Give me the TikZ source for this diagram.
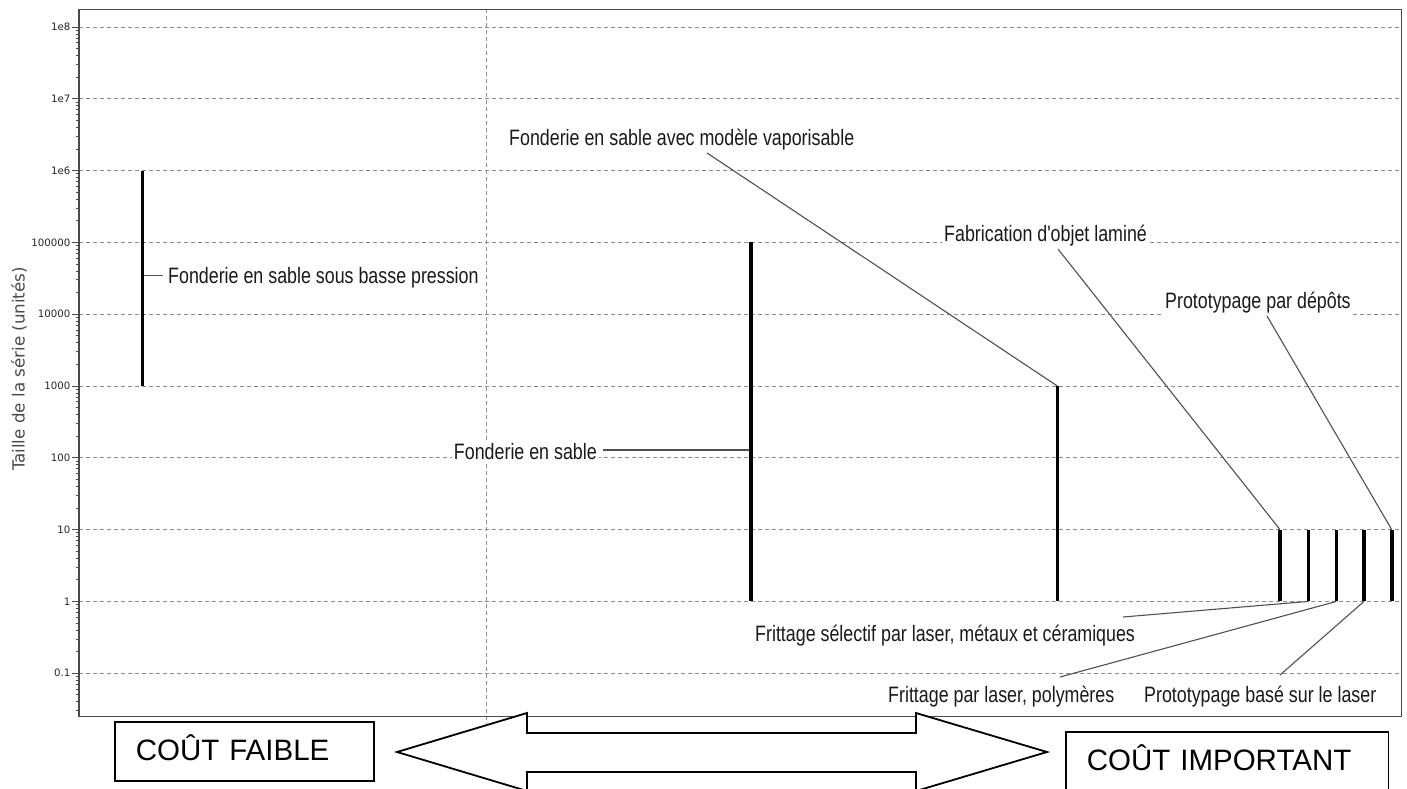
\documentclass[tikz,border=0pt]{standalone}
\usepackage{fontspec}
\setmainfont{Liberation Sans}
\newfontfamily\narrowsans[FakeStretch=0.80]{Liberation Sans}
\newfontfamily\tickfont{DejaVu Sans}
\definecolor{gridc}{HTML}{8C8C8C}
\definecolor{framec}{HTML}{4A4A4A}
\definecolor{leadc}{HTML}{505050}
\definecolor{labc}{HTML}{1A1A1A}
\definecolor{tickc}{HTML}{262626}
\begin{document}
\begin{tikzpicture}[x=1pt,y=-1pt,
  gridline/.style={draw=gridc, line width=0.9pt, dash pattern=on 4pt off 3pt},
  framel/.style={draw=framec, line width=1pt},
  tickl/.style={draw=framec, line width=0.9pt},
  bar/.style={line width=3.6pt, draw=black},
  leader/.style={draw=leadc, line width=1.1pt},
  lab/.style={font=\narrowsans\fontsize{22.3}{24}\selectfont, text=labc, fill=white, inner xsep=2pt, inner ysep=3pt},
  ticklab/.style={font=\tickfont\fontsize{10.2}{12}\selectfont, text=tickc, inner sep=0pt, anchor=east},
  costbox/.style={draw=black, line width=1.8pt, font=\fontsize{29.5}{32}\selectfont, align=left, inner xsep=21pt, inner ysep=0pt, anchor=north west}
]
\useasboundingbox (0,0) rectangle (1407,789);
\clip (0,0) rectangle (1407,789);

% grid
\foreach \k in {-1,...,8}
  \draw[gridline] (79,{27+(8-\k)*71.8}) -- (1401,{27+(8-\k)*71.8});
\draw[gridline] (486.7,9.3) -- (486.7,730);

% frame
\draw[framel] (79,9.3) rectangle (1401,716.7);
\draw[draw=framec, line width=2pt] (79,9.3) -- (79,716.7);

% ticks
\foreach \k [count=\i] in {-1,...,8}
  \draw[tickl] (72,{27+(8-\k)*71.8}) -- (79,{27+(8-\k)*71.8});
\foreach \k in {-2,...,7}{
  \foreach \m in {2,...,9}{
    \pgfmathsetmacro\yy{27+(8-\k-ln(\m)/ln(10))*71.8}
    \ifdim\yy pt<716pt
      \draw[tickl] (75.5,\yy) -- (79,\yy);
    \fi
  }
}
\foreach \k/\t [count=\i] in {8/1e8,7/1e7,6/1e6,5/100000,4/10000,3/1000,2/100,1/10,0/1,-1/0.1}
  \node[ticklab] (tk\i) at (70.5,{27+(8-\k)*71.8}) {\t};

% axis title
\node[font=\tickfont\fontsize{16.7}{18}\selectfont, text=framec, rotate=90] (ytitle) at (19,369) {Taille de la série (unités)};

% labels
\node[lab, anchor=base west] (l1) at (166,283.5) {Fonderie en sable sous basse pression};
\node[lab, anchor=base east] (l2) at (599,459.3) {Fonderie en sable};
\node[lab, anchor=base west] (l3) at (507,145.7) {Fonderie en sable avec modèle vaporisable};
\node[lab, anchor=base west] (l4) at (942,241.7) {Fabrication d'objet laminé};
\node[lab, anchor=base west] (l5) at (1163,308.5) {Prototypage par dépôts};
\node[lab, anchor=base west] (l6) at (753,641.7) {Frittage sélectif par laser, métaux et céramiques};
\node[lab, anchor=base west] (l7) at (886,702.7) {Frittage par laser, polymères};
\node[lab, anchor=base west] (l8) at (1142,702.7) {Prototypage basé sur le laser};

% bar end points
\coordinate (b1t) at (142.3,170.6);  \coordinate (b1b) at (142.3,386);
\coordinate (b2t) at (750.7,242.4);  \coordinate (b2b) at (750.7,601.4);
\coordinate (b3t) at (1057.3,386);   \coordinate (b3b) at (1057.3,601.4);
\coordinate (b4t) at (1280,529.6);   \coordinate (b4b) at (1280,601.4);
\coordinate (b5t) at (1308.5,529.6); \coordinate (b5b) at (1308.5,601.4);
\coordinate (b6t) at (1336.5,529.6); \coordinate (b6b) at (1336.5,601.4);
\coordinate (b7t) at (1364,529.6);   \coordinate (b7b) at (1364,601.4);
\coordinate (b8t) at (1391.7,529.6); \coordinate (b8b) at (1391.7,601.4);

% leader ends
\coordinate (b1m) at (142.3,275.3); \coordinate (e1) at (163,275.3);
\coordinate (b2m) at (750.7,450);   \coordinate (e2) at (602.7,450);
\coordinate (e3) at (707,153);
\coordinate (e4) at (1058,249);
\coordinate (e5) at (1267,316);
\coordinate (e6) at (1123,617);
\coordinate (e7) at (1060,677);
\coordinate (e8) at (1280,675);

% leaders
\draw[leader] (b1m) -- (e1);
\draw[leader] (b2m) -- (e2);
\draw[leader] (e3) -- (b3t);
\draw[leader] (e4) -- (b4t);
\draw[leader] (e5) -- (b8t);
\draw[leader] (e6) -- (b5b);
\draw[leader] (e7) -- (b6b);
\draw[leader] (e8) -- (b7b);

% bars
\foreach \n in {1,...,8}
  \draw[bar] (b\n t) -- (b\n b);

% double arrow
\draw[line width=1.8pt, fill=white, line join=miter] (397,752) -- (527,713) -- (527,733) -- (916,733) -- (916,713) -- (1047,752) -- (916,791) -- (916,772) -- (527,772) -- (527,791) -- cycle;

% cost boxes
\node[costbox, text width=217pt, text height=38.3pt, text depth=20.7pt] (low) at (114,721) {COÛT FAIBLE};
\node[costbox, text width=280.6pt, text height=39.3pt, text depth=35pt] (high) at (1065,730.7) {COÛT IMPORTANT};
\end{tikzpicture}
\end{document}
